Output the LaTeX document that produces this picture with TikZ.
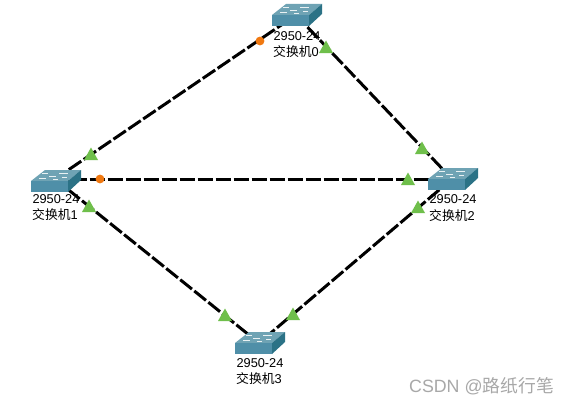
\documentclass[tikz,border=0pt]{standalone}
\usepackage{fontspec}
\setmainfont{Liberation Sans}
\newfontfamily\cjk{Noto Sans CJK SC}
\definecolor{swfront}{HTML}{4F8FA8}
\definecolor{swtop}{HTML}{6FA3B4}
\definecolor{swside}{HTML}{2B7286}
\definecolor{tri}{HTML}{6FBF4B}
\definecolor{dot}{HTML}{F07810}
\definecolor{wm}{HTML}{A8A8A8}
\tikzset{
  x=1pt,y=-1pt,
  linkline/.style={line width=3pt,black,dash pattern=on 15pt off 3pt,dash phase=1.3pt},
  lbl/.style={inner sep=0pt,font=\fontsize{12.8pt}{12.8pt}\selectfont,text=black},
  dev/.style={inner sep=0pt,outer sep=0pt,minimum size=0pt},
  pics/swicon/.style={code={
    \fill[swtop] (-24,0) -- (-10,-11) -- (26,-11) -- (13,0) -- cycle;
    \fill[swfront] (-24,0) rectangle (13,11);
    \fill[swside] (13,0) -- (26,-11) -- (26,-1) -- (13,11) -- cycle;
    \draw[white,line width=.6pt,opacity=.85]
      (-13,-7.5) -- (-7,-7.5) (4,-8) -- (13,-8) (-6,-4.5) -- (1,-4.5) (7,-4) -- (12,-4)
      (-16,-2.5) -- (-9,-2.5) (-2,-2) -- (3,-2);
  }},
  mark tri/.style={fill=tri,draw=none},
}
\newcommand{\trimark}[2]{\fill[mark tri] (#1-7,#2+6) -- (#1,#2-6.5) -- (#1+7,#2+6) -- cycle;}
\begin{document}
\begin{tikzpicture}
\useasboundingbox (0,0) rectangle (569,404);
\fill[white] (0,0) rectangle (569,404);
% device anchors
\node[dev] (s0) at (296,15) {};
\node[dev] (s1) at (55,179) {};
\node[dev] (s2) at (452,179) {};
\node[dev] (s3) at (259,343) {};
% links
\draw[linkline] (s1) -- (s0);
\draw[linkline] (s0) -- (s2);
\draw[linkline] (s1) -- (s2);
\draw[linkline] (s1) -- (s3);
\draw[linkline] (s2) -- (s3);
% switches
\pic at (s0) {swicon};
\pic[yshift=-2pt] at (s1) {swicon};
\pic at (s2) {swicon};
\pic at (s3) {swicon};
% labels
\node[lbl] (m0) at (297,36) {2950-24};
\node[lbl] (n0) at (296,52) {{\cjk 交换机}0};
\node[lbl] (m1) at (56,199) {2950-24};
\node[lbl] (n1) at (55,215) {{\cjk 交换机}1};
\node[lbl] (m2) at (453,199) {2950-24};
\node[lbl] (n2) at (452,216) {{\cjk 交换机}2};
\node[lbl] (m3) at (260,363) {2950-24};
\node[lbl] (n3) at (259,379) {{\cjk 交换机}3};
% port lights
\trimark{91}{154}
\trimark{326}{47}
\trimark{422}{148}
\trimark{408}{179}
\trimark{89}{206}
\trimark{418}{207}
\trimark{225}{315}
\trimark{293}{314}
\fill[dot] (260,41) circle (4.4);
\fill[dot] (100,179) circle (4.4);
% watermark
\node[inner sep=0pt,anchor=east,text=wm,font=\fontsize{17.8pt}{17.8pt}\selectfont] (wm) at (554,386) {CSDN @{\cjk 路纸行笔}};
\end{tikzpicture}
\end{document}
